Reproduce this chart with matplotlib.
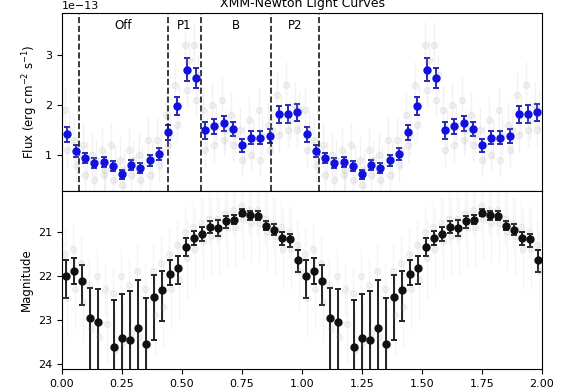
import numpy as np
import matplotlib
matplotlib.use('Agg')
import matplotlib.pyplot as plt

# phase bins (26 for X-ray, 30 for optical), shown over two cycles
n_x = 26
n_opt = 30

flux = [1.41, 1.07, 0.93, 0.83, 0.85, 0.77, 0.61, 0.80, 0.73, 0.89, 1.02, 1.45, 1.98,
        2.70, 2.54, 1.49, 1.57, 1.63, 1.51, 1.19, 1.34, 1.34, 1.38, 1.81, 1.81, 1.85]
flux_err = [0.15, 0.12, 0.10, 0.10, 0.10, 0.10, 0.09, 0.10, 0.10, 0.11, 0.12, 0.15, 0.18,
            0.23, 0.20, 0.17, 0.15, 0.15, 0.14, 0.13, 0.13, 0.13, 0.14, 0.17, 0.18, 0.17]

# individual (faint) light curves behind the average
flux_grey = [
    [1.9, 1.3, 1.2, 1.0, 1.1, 1.2, 0.9, 1.1, 1.0, 1.3, 1.3, 1.8, 2.4,
     3.2, 3.2, 1.9, 2.0, 2.1, 1.8, 1.5, 1.7, 1.9, 1.6, 2.2, 2.4, 2.0],
    [1.1, 0.8, 0.6, 0.5, 0.6, 0.5, 0.4, 0.6, 0.5, 0.6, 0.8, 1.2, 1.6,
     2.3, 2.1, 1.1, 1.2, 1.3, 1.2, 0.9, 1.0, 0.9, 1.1, 1.4, 1.5, 1.5],
    [1.5, 1.0, 0.9, 0.9, 0.7, 0.8, 0.7, 0.9, 0.8, 0.9, 1.1, 1.4, 2.0,
     2.9, 2.6, 1.5, 1.6, 1.5, 1.4, 1.2, 1.3, 1.4, 1.5, 1.8, 1.7, 1.9],
]
flux_grey_err = [0.45, 0.35, 0.4]

mag = [22.00, 21.89, 22.12, 22.95, 23.05, np.nan, 23.63, 23.42, 23.46, 23.18, 23.55, 22.48,
       22.32, 21.96, 21.82, 21.35, 21.13, 21.04, 20.89, 20.91, 20.76, 20.72, 20.56, 20.62,
       20.63, 20.86, 20.95, 21.14, 21.17, 21.64]
mag_err_lo = [0.35, 0.30, 0.36, 0.68, 0.76, np.nan, 1.09, 1.00, 1.11, 1.09, 1.05, 0.50,
              0.43, 0.31, 0.27, 0.20, 0.16, 0.15, 0.13, 0.18, 0.11, 0.10, 0.08, 0.09,
              0.10, 0.11, 0.13, 0.14, 0.13, 0.22]
mag_err_hi = [0.51, 0.30, 0.55, 1.5, 1.5, np.nan, 1.5, 1.5, 1.5, 1.5, 1.5, 0.98,
              0.71, 0.25, 0.36, 0.20, 0.16, 0.17, 0.14, 0.18, 0.16, 0.11, 0.08, 0.10,
              0.10, 0.10, 0.13, 0.16, 0.18, 0.28]

mag_grey = [
    [21.5, 21.4, 21.7, 22.2, 22.0, 22.3, 22.4, 22.0, 22.2, 21.9, 22.3, 21.9, 21.7, 21.5, 21.3,
     21.0, 20.9, 20.8, 20.7, 20.7, 20.6, 20.5, 20.4, 20.5, 20.5, 20.7, 20.8, 20.9, 21.0, 21.3],
    [22.5, 22.3, 22.6, 23.2, 23.4, 23.1, 23.7, 23.5, 23.3, 23.4, 23.6, 22.9, 22.7, 22.3, 22.1,
     21.6, 21.4, 21.2, 21.1, 21.1, 20.9, 20.9, 20.7, 20.8, 20.8, 21.0, 21.1, 21.4, 21.4, 21.9],
]
mag_grey_err = [0.6, 0.9]

boundaries = [0.07, 0.44, 0.58, 0.87, 1.07]
regions = ['Off', 'P1', 'B', 'P2']

phase_x = (np.arange(n_x) + 0.5) / n_x
phase_opt = (np.arange(n_opt) + 0.5) / n_opt
px = np.concatenate([phase_x, phase_x + 1])
po = np.concatenate([phase_opt, phase_opt + 1])

fig, (ax1, ax2) = plt.subplots(2, 1, sharex=True, figsize=(5.85, 3.9), dpi=100)
fig.subplots_adjust(left=62/585, right=542/585, top=1-13/390, bottom=1-369/390, hspace=0)

for k, g in enumerate(flux_grey):
    gx = px + (k - 1) * 0.008
    ax1.errorbar(gx, np.tile(g, 2)*1e-13, yerr=flux_grey_err[k]*1e-13, fmt='o', ms=4.5,
                 color='0.6', alpha=0.12, elinewidth=1, capsize=0)
ax1.errorbar(px, np.tile(flux, 2)*1e-13, yerr=np.tile(flux_err, 2)*1e-13, fmt='o', ms=5,
             color='#1010e0', ecolor='#2a2ab0', elinewidth=1.4, capsize=2.5, capthick=1.4)
for b in boundaries:
    ax1.axvline(b, color='0.1', ls='--', lw=1.2)
edges = boundaries
for i, lab in enumerate(regions):
    ax1.text((edges[i] + edges[i+1]) / 2, 0.93, lab, transform=ax1.get_xaxis_transform(),
             ha='center', va='center', fontsize=8.5)
ax1.set_ylim(0.27e-13, 3.84e-13)
ax1.set_yticks([1e-13, 2e-13, 3e-13])
ax1.set_ylabel(r'Flux (erg cm$^{-2}$ s$^{-1}$)', fontsize=8.5)
ax1.set_title('XMM-Newton Light Curves', fontsize=9, pad=4)
ax1.tick_params(axis='x', bottom=False)
ax1.tick_params(labelsize=8)
ax1.yaxis.get_offset_text().set_fontsize(8)

for k, g in enumerate(mag_grey):
    gx = po + (k - 0.5) * 0.01
    ax2.errorbar(gx, np.tile(g, 2), yerr=mag_grey_err[k], fmt='o', ms=4.5,
                 color='0.6', alpha=0.1, elinewidth=1, capsize=0)
ax2.errorbar(po, np.tile(mag, 2), yerr=[np.tile(mag_err_lo, 2), np.tile(mag_err_hi, 2)],
             fmt='o', ms=5, color='#111111', ecolor='#222222', elinewidth=1.4,
             capsize=2.5, capthick=1.4)
ax2.set_ylim(24.12, 20.07)
ax2.set_yticks([21, 22, 23, 24])
ax2.set_ylabel('Magnitude', fontsize=8.5)
ax2.set_xlim(0, 2)
ax2.set_xticks([0, 0.25, 0.5, 0.75, 1.0, 1.25, 1.5, 1.75, 2.0])
ax2.set_xticklabels(['0.00', '0.25', '0.50', '0.75', '1.00', '1.25', '1.50', '1.75', '2.00'])
ax2.tick_params(labelsize=8)

fig.savefig('out.png', dpi=100)
